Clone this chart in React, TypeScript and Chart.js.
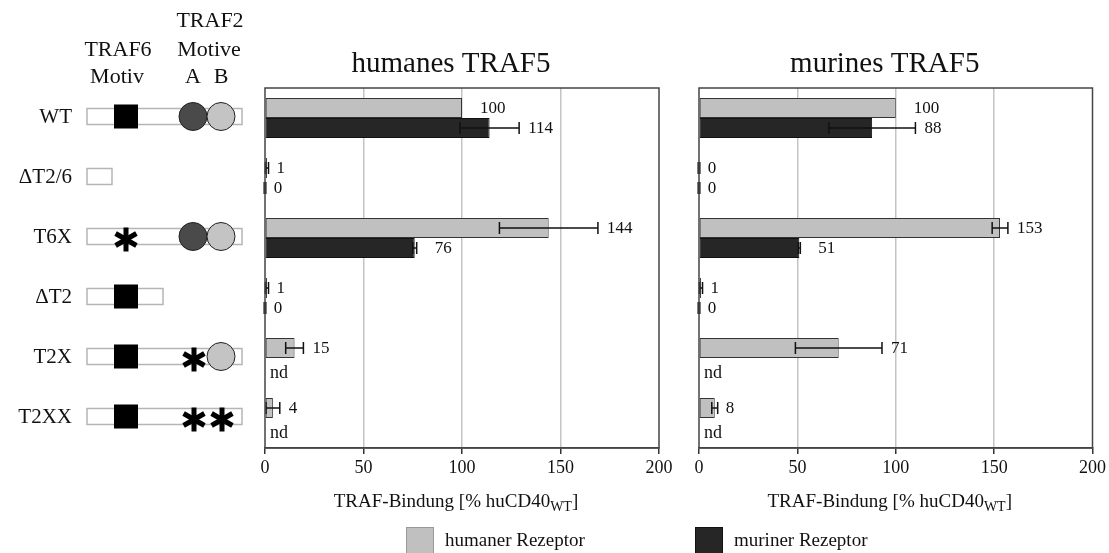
import React, { useEffect, useRef } from "react";
import { Chart, registerables } from "chart.js";

Chart.register(...registerables);

// ---------------- data ----------------
const categories = ["WT", "ΔT2/6", "T6X", "ΔT2", "T2X", "T2XX"];
const xTicks = [0, 50, 100, 150, 200];
const seriesNames = ["humaner Rezeptor", "muriner Rezeptor"];
const panelTitles = ["humanes TRAF5", "murines TRAF5"];
const axisTitleMain = "TRAF-Bindung [% huCD40";
const axisTitleSub = "WT";
const axisTitleEnd = "]";
const notDetermined = "nd";
const headerTRAF6 = ["TRAF6", "Motiv"];
const headerTRAF2 = ["TRAF2", "Motive"];
const motifLetters = ["A", "B"];

// humanes TRAF5
const huTRAF5Human: (number | null)[] = [100, 1, 144, 1, 15, 4];
const huTRAF5HumanErr: (number | null)[] = [0, 0.8, 25, 0.8, 4.5, 3.5];
const huTRAF5Murine: (number | null)[] = [114, 0, 76, 0, null, null];
const huTRAF5MurineErr: (number | null)[] = [15, 0.4, 1, 0.4, null, null];

// murines TRAF5
const muTRAF5Human: (number | null)[] = [100, 0, 153, 1, 71, 8];
const muTRAF5HumanErr: (number | null)[] = [0, 0.4, 4, 0.8, 22, 1.5];
const muTRAF5Murine: (number | null)[] = [88, 0, 51, 0, null, null];
const muTRAF5MurineErr: (number | null)[] = [22, 0.4, 0.5, 0.4, null, null];

// construct scheme (left diagram)
const constructs = [
  { len: "full", t6: "box", a: "circle", b: "circle" },
  { len: "stub", t6: null, a: null, b: null },
  { len: "full", t6: "star", a: "circle", b: "circle" },
  { len: "mid", t6: "box", a: null, b: null },
  { len: "full", t6: "box", a: "star", b: "circle" },
  { len: "full", t6: "box", a: "star", b: "star" },
];

// ---------------- style ----------------
const W = 1109;
const H = 553;
const FONT = "'Liberation Serif', 'Times New Roman', serif";
const GRAY = "#c0c0c0";
const DARK = "#262626";

type Panel = {
  left: number;
  right: number;
  title: string;
  human: (number | null)[];
  humanErr: (number | null)[];
  murine: (number | null)[];
  murineErr: (number | null)[];
  main: boolean;
};

function drawStar(ctx: CanvasRenderingContext2D, cx: number, cy: number, r: number) {
  ctx.save();
  ctx.strokeStyle = "#000";
  ctx.lineWidth = 5;
  ctx.lineCap = "butt";
  [90, 30, -30].forEach((deg) => {
    const a = (deg * Math.PI) / 180;
    ctx.beginPath();
    ctx.moveTo(cx - Math.cos(a) * r, cy - Math.sin(a) * r);
    ctx.lineTo(cx + Math.cos(a) * r, cy + Math.sin(a) * r);
    ctx.stroke();
  });
  ctx.restore();
}

function drawCircle(ctx: CanvasRenderingContext2D, cx: number, cy: number, r: number, fill: string) {
  ctx.beginPath();
  ctx.arc(cx, cy, r, 0, Math.PI * 2);
  ctx.fillStyle = fill;
  ctx.fill();
  ctx.strokeStyle = "#222";
  ctx.lineWidth = 1;
  ctx.stroke();
}

function makePlugin(p: Panel) {
  return {
    id: "panel" + (p.main ? "A" : "B"),
    afterDatasetsDraw(chart: any) {
      const ctx: CanvasRenderingContext2D = chart.ctx;
      const xs = chart.scales.x;
      const ys = chart.scales.y;
      const sets = [
        [p.human, p.humanErr],
        [p.murine, p.murineErr],
      ];
      ctx.save();
      sets.forEach(([vals, errs], d) => {
        const meta = chart.getDatasetMeta(d);
        vals.forEach((v, i) => {
          const el: any = meta.data[i];
          const cy = ys.getPixelForValue(i);
          const y = el && Number.isFinite(el.y) ? el.y : cy + (d === 0 ? -10 : 10);
          if (v == null) {
            ctx.fillStyle = "#111";
            ctx.font = `18px ${FONT}`;
            ctx.textAlign = "left";
            ctx.textBaseline = "middle";
            ctx.fillText(notDetermined, xs.getPixelForValue(0) + 5, y + 5);
            return;
          }
          const e = (errs[i] as number) || 0;
          if (e > 0) {
            const x1 = xs.getPixelForValue(v - e);
            const x2 = xs.getPixelForValue(v + e);
            ctx.strokeStyle = "#111";
            ctx.lineWidth = 1.5;
            ctx.beginPath();
            ctx.moveTo(x1, y);
            ctx.lineTo(x2, y);
            ctx.moveTo(x1, y - 6);
            ctx.lineTo(x1, y + 6);
            ctx.moveTo(x2, y - 6);
            ctx.lineTo(x2, y + 6);
            ctx.stroke();
          }
          const gap = e >= 3 ? 9 : v >= 10 ? 18 : 8;
          ctx.fillStyle = "#111";
          ctx.font = `17px ${FONT}`;
          ctx.textAlign = "left";
          ctx.textBaseline = "middle";
          ctx.fillText(String(v), xs.getPixelForValue(v + e) + gap, y + 1);
        });
      });
      ctx.restore();
    },
    afterDraw(chart: any) {
      const ctx: CanvasRenderingContext2D = chart.ctx;
      const a = chart.chartArea;
      const ys = chart.scales.y;
      ctx.save();
      // frame
      ctx.strokeStyle = "#444";
      ctx.lineWidth = 1.5;
      ctx.strokeRect(a.left, a.top, a.right - a.left, a.bottom - a.top);

      // title
      const cx = (a.left + a.right) / 2;
      ctx.fillStyle = "#111";
      ctx.font = `29px ${FONT}`;
      ctx.textAlign = "center";
      ctx.textBaseline = "middle";
      ctx.fillText(p.title, cx - 11, 64);

      // axis title with subscript
      ctx.font = `19px ${FONT}`;
      const w1 = ctx.measureText(axisTitleMain).width;
      const w3 = ctx.measureText(axisTitleEnd).width;
      ctx.font = `14px ${FONT}`;
      const w2 = ctx.measureText(axisTitleSub).width;
      const tw = w1 + w2 + w3;
      let tx = cx - 6 - tw / 2;
      const ty = 502;
      ctx.textAlign = "left";
      ctx.textBaseline = "middle";
      ctx.font = `19px ${FONT}`;
      ctx.fillText(axisTitleMain, tx, ty);
      tx += w1;
      ctx.font = `14px ${FONT}`;
      ctx.fillText(axisTitleSub, tx, ty + 5);
      tx += w2;
      ctx.font = `19px ${FONT}`;
      ctx.fillText(axisTitleEnd, tx, ty);

      if (p.main) {
        // headers
        ctx.font = `22px ${FONT}`;
        ctx.textAlign = "center";
        ctx.fillText(headerTRAF6[0], 118, 50);
        ctx.fillText(headerTRAF6[1], 117, 77);
        ctx.fillText(headerTRAF2[0], 210, 21);
        ctx.fillText(headerTRAF2[1], 209, 50);
        ctx.fillText(motifLetters[0], 193, 77);
        ctx.fillText(motifLetters[1], 221, 77);

        // rows
        constructs.forEach((c, i) => {
          const cy = ys.getPixelForValue(i) - 1.5;
          ctx.font = `21px ${FONT}`;
          ctx.textAlign = "right";
          ctx.fillStyle = "#111";
          ctx.fillText(categories[i], 72, cy + 1);
          const len = c.len === "full" ? 155 : c.len === "mid" ? 76 : 25;
          ctx.fillStyle = "#fff";
          ctx.fillRect(87, cy - 8, len, 16);
          ctx.strokeStyle = "#b5b5b5";
          ctx.lineWidth = 1.5;
          ctx.strokeRect(87, cy - 8, len, 16);
          if (c.t6 === "box") {
            ctx.fillStyle = "#000";
            ctx.fillRect(114, cy - 12, 24, 24);
          } else if (c.t6 === "star") {
            drawStar(ctx, 126, cy + 3, 12);
          }
          if (c.a === "circle") drawCircle(ctx, 193, cy, 14, "#4a4a4a");
          else if (c.a === "star") drawStar(ctx, 194, cy + 3, 12);
          if (c.b === "circle") drawCircle(ctx, 221, cy, 14, "#c4c4c4");
          else if (c.b === "star") drawStar(ctx, 222, cy + 3, 12);
        });

        // legend
        const legendItems = [
          { x: 406, color: GRAY, border: "#999", text: seriesNames[0] },
          { x: 695, color: DARK, border: "#111", text: seriesNames[1] },
        ];
        legendItems.forEach((it) => {
          ctx.fillStyle = it.color;
          ctx.fillRect(it.x, 527, 28, 26);
          ctx.strokeStyle = it.border;
          ctx.lineWidth = 1;
          ctx.strokeRect(it.x + 0.5, 527.5, 27, 26);
          ctx.fillStyle = "#111";
          ctx.font = `19px ${FONT}`;
          ctx.textAlign = "left";
          ctx.textBaseline = "middle";
          ctx.fillText(it.text, it.x + 39, 541);
        });
      }
      ctx.restore();
    },
  };
}

function makeChart(canvas: HTMLCanvasElement, p: Panel) {
  return new Chart(canvas, {
    type: "bar",
    data: {
      labels: categories,
      datasets: [
        {
          label: seriesNames[0],
          data: p.human as any,
          backgroundColor: GRAY,
          borderColor: "#333",
          borderWidth: 1,
          borderSkipped: false,
          categoryPercentage: 0.667,
          barPercentage: 1,
        },
        {
          label: seriesNames[1],
          data: p.murine as any,
          backgroundColor: DARK,
          borderColor: "#111",
          borderWidth: 1,
          borderSkipped: false,
          categoryPercentage: 0.667,
          barPercentage: 1,
        },
      ],
    },
    options: {
      indexAxis: "y",
      responsive: false,
      maintainAspectRatio: false,
      animation: false,
      devicePixelRatio: 1,
      layout: {
        padding: { left: p.left, right: W - p.right, top: 88, bottom: H - 448 - 40 },
      },
      plugins: {
        legend: { display: false },
        tooltip: { enabled: false },
        title: { display: false },
      },
      scales: {
        x: {
          type: "linear",
          min: 0,
          max: 200,
          afterBuildTicks: (s: any) => {
            s.ticks = xTicks.map((v) => ({ value: v }));
          },
          afterFit: (s: any) => {
            s.height = 40;
          },
          ticks: {
            font: { family: FONT, size: 18 },
            color: "#111",
            padding: 3,
          },
          grid: {
            color: (c: any) =>
              c.tick && (c.tick.value === 0 || c.tick.value === 200) ? "rgba(0,0,0,0)" : "#c4c4c4",
            lineWidth: 1.5,
            tickColor: "#333",
            tickLength: 6,
            drawTicks: true,
          },
          border: { display: true, color: "#444", width: 1.5 },
        },
        y: {
          type: "category",
          display: false,
          offset: true,
          grid: { display: false },
        },
      },
    } as any,
    plugins: [makePlugin(p)],
  });
}

export default function App() {
  const ref1 = useRef<HTMLCanvasElement>(null);
  const ref2 = useRef<HTMLCanvasElement>(null);

  useEffect(() => {
    const c1 = makeChart(ref1.current!, {
      left: 265,
      right: 659,
      title: panelTitles[0],
      human: huTRAF5Human,
      humanErr: huTRAF5HumanErr,
      murine: huTRAF5Murine,
      murineErr: huTRAF5MurineErr,
      main: true,
    });
    const c2 = makeChart(ref2.current!, {
      left: 699,
      right: 1094,
      title: panelTitles[1],
      human: muTRAF5Human,
      humanErr: muTRAF5HumanErr,
      murine: muTRAF5Murine,
      murineErr: muTRAF5MurineErr,
      main: false,
    });
    return () => {
      c1.destroy();
      c2.destroy();
    };
  }, []);

  const cs: React.CSSProperties = { position: "absolute", left: 0, top: 0, width: W, height: H };
  return (
    <div style={{ position: "absolute", left: 0, top: 0, width: W, height: H, background: "#fff", overflow: "hidden" }}>
      <canvas ref={ref1} width={W} height={H} style={cs} />
      <canvas ref={ref2} width={W} height={H} style={cs} />
    </div>
  );
}
